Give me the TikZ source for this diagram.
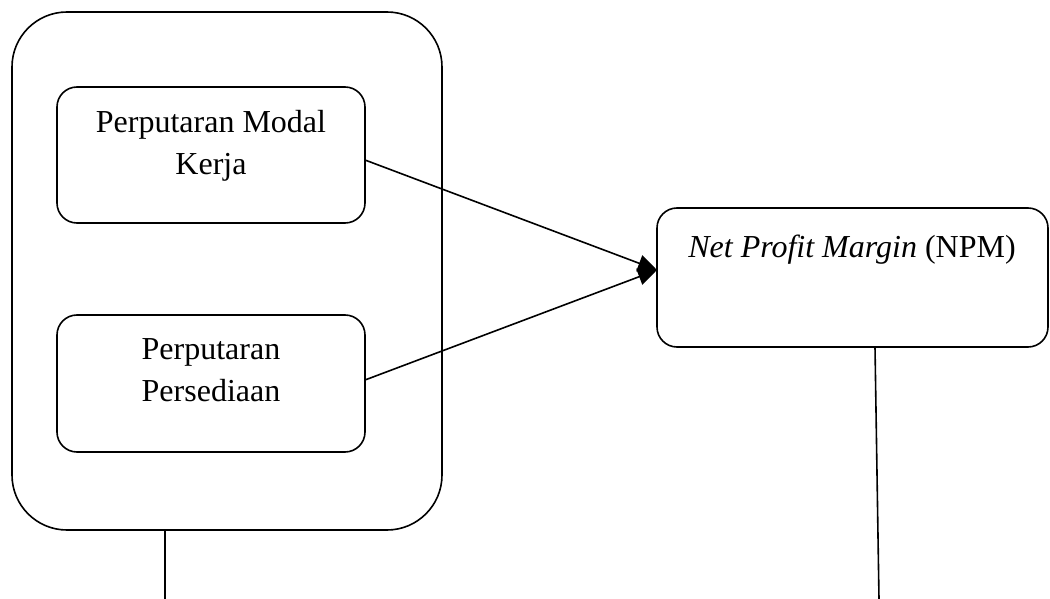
\documentclass[tikz,border=0pt]{standalone}
\usepackage{fontspec}
\setmainfont{Liberation Serif}
\usetikzlibrary{arrows.meta}
\begin{document}
\begin{tikzpicture}[x=1pt,y=-1pt,
  line width=1.6pt,
  outerbox/.style={draw,rounded corners=55pt,minimum width=430pt,minimum height=518pt,inner sep=0pt},
  varbox/.style={draw,rounded corners=20pt,inner sep=0pt},
  lbl/.style={align=center,font=\fontsize{32}{42}\selectfont,inner sep=0pt},
  link/.style={-{Triangle[length=19pt,width=17pt]}}]
\useasboundingbox (0,0) rectangle (1050,599);
% outer group frame
\node[outerbox] (grp) at (227,271) {};
% independent variables
\node[varbox,minimum width=308pt,minimum height=136pt] (pmk) at (211,155) {};
\node[lbl] (pmkt) at (211,145.5) {Perputaran Modal\\Kerja};
\node[varbox,minimum width=308pt,minimum height=137pt] (pp) at (211,383.5) {};
\node[lbl] (ppt) at (211,370) {Perputaran\\Persediaan};
% dependent variable
\node[varbox,minimum width=391pt,minimum height=139pt] (npm) at (852.5,277.5) {};
\node[lbl,anchor=base] (npmt) at (852,257) {\textit{Net Profit Margin} (NPM)};
% connectors
\coordinate (pmkout) at (365,160);
\coordinate (ppout) at (365,380);
\coordinate (npmin) at (657,270);
\draw[link] (pmkout) -- (npmin);
\draw[link] (ppout) -- (npmin);
% lines leaving the bottom edge
\coordinate (grpdown) at (165,599);
\coordinate (npmtop) at (875,347);
\coordinate (npmdown) at (879,599);
\draw (grp.south -| grpdown) -- (grpdown);
\draw (npmtop) -- (npmdown);
\end{tikzpicture}
\end{document}
